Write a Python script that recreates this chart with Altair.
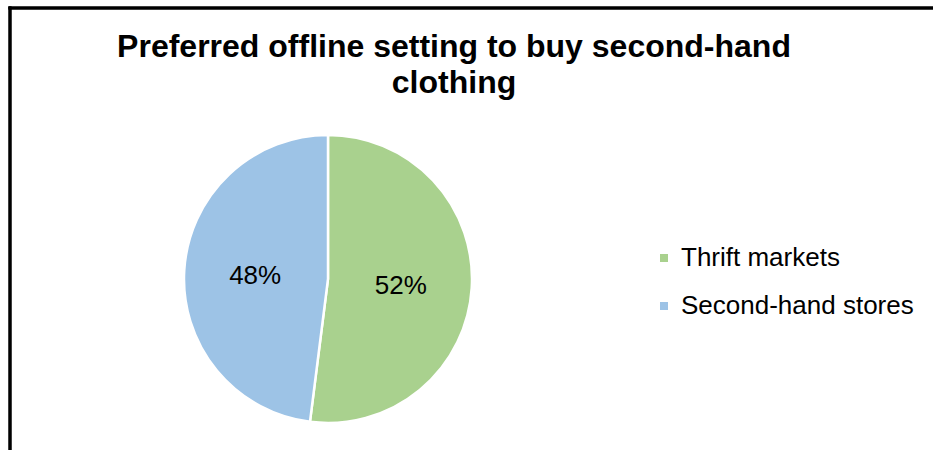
import altair as alt
import pandas as pd

categories = ["Thrift markets", "Second-hand stores"]
values = [52, 48]
labels = ["52%", "48%"]
colors = ["#A9D18E", "#9DC3E6"]
title_lines = ["Preferred offline setting to buy second-hand", "clothing"]

df = pd.DataFrame({"category": categories, "value": values, "label": labels,
                   "order": list(range(len(categories)))})

FONT = "Liberation Sans"
CX, CY, R = 318, 271, 144
W, H = 923, 442

base = alt.Chart(df).encode(
    theta=alt.Theta("value:Q", stack=True),
    order=alt.Order("order:Q"),
)

pie = base.mark_arc(stroke="white", strokeWidth=2.5, radius=R).encode(
    x=alt.value(CX), y=alt.value(CY),
    color=alt.Color("category:N",
                    scale=alt.Scale(domain=categories, range=colors),
                    legend=alt.Legend(title=None, orient="none", legendX=641, legendY=237,
                                      symbolType="square", symbolSize=64,
                                      labelFontSize=26, labelFont=FONT, labelColor="#000000",
                                      rowPadding=22, padding=0, labelOffset=4,
                                      labelLimit=0, symbolStrokeWidth=0)),
)

text = base.mark_text(radius=73, fontSize=26, font=FONT, color="#000000", dy=2).encode(
    x=alt.value(CX), y=alt.value(CY),
    text="label:N",
)

tdf = pd.DataFrame({"t": title_lines, "i": [0, 1]})
title = alt.Chart(tdf).mark_text(fontSize=32, fontWeight="bold", font=FONT,
                                 color="#000000", baseline="alphabetic", align="center").encode(
    x=alt.value(444),
    y=alt.Y("i:Q", scale=alt.Scale(domain=[0, 1], range=[49, 85]), axis=None),
    text="t:N",
)

# chart frame (left and top edges visible in the reference crop)
frame_left = alt.Chart(df).mark_rule(color="#000000", strokeWidth=3).encode(
    x=alt.value(0), y=alt.value(-1.5), y2=alt.value(H + 10))
frame_top = alt.Chart(df).mark_rule(color="#000000", strokeWidth=3).encode(
    x=alt.value(-1.5), x2=alt.value(W + 10), y=alt.value(0))

chart = alt.layer(frame_left, frame_top, pie, text, title).properties(
    width=W, height=H,
    background="white",
    autosize=alt.AutoSizeParams(type="none"),
    padding={"left": 10, "top": 8, "right": 0, "bottom": 0},
).configure_view(strokeWidth=0)

chart.save("out.html", embed_options={"renderer": "svg", "actions": False})
